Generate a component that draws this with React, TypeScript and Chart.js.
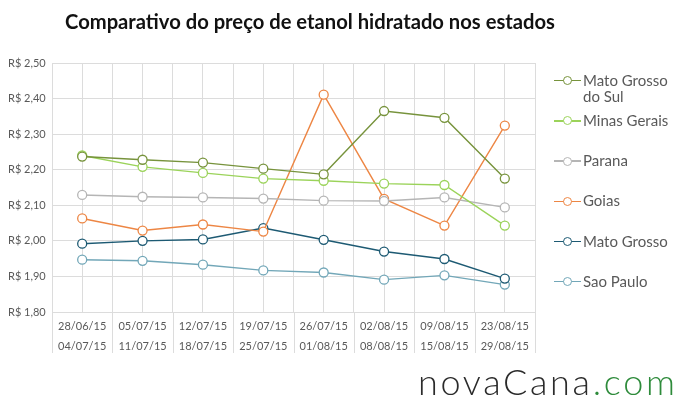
import React, { useEffect, useRef } from "react";
import { Chart, registerables } from "chart.js";

Chart.register(...registerables);

const startDates = ["28/06/15", "05/07/15", "12/07/15", "19/07/15", "26/07/15", "02/08/15", "09/08/15", "23/08/15"];
const endDates = ["04/07/15", "11/07/15", "18/07/15", "25/07/15", "01/08/15", "08/08/15", "15/08/15", "29/08/15"];

const matoGrossoDoSul = [2.237, 2.228, 2.22, 2.203, 2.187, 2.365, 2.346, 2.175];
const minasGerais = [2.24, 2.208, 2.191, 2.175, 2.169, 2.161, 2.157, 2.043];
const parana = [2.129, 2.124, 2.122, 2.119, 2.113, 2.112, 2.122, 2.094];
const goias = [2.063, 2.029, 2.046, 2.026, 2.411, 2.118, 2.043, 2.324];
const matoGrosso = [1.992, 2.0, 2.004, 2.036, 2.003, 1.97, 1.949, 1.894];
const saoPaulo = [1.947, 1.944, 1.933, 1.917, 1.911, 1.891, 1.903, 1.877];

const yTicks = [1.8, 1.9, 2.0, 2.1, 2.2, 2.3, 2.4, 2.5];

const series = [
  { name: ["Mato Grosso", "do Sul"], values: matoGrossoDoSul, color: "#77933c" },
  { name: ["Minas Gerais"], values: minasGerais, color: "#9bd35a" },
  { name: ["Parana"], values: parana, color: "#b5b5b5" },
  { name: ["Goias"], values: goias, color: "#ed8644" },
  { name: ["Mato Grosso"], values: matoGrosso, color: "#1d5a73" },
  { name: ["Sao Paulo"], values: saoPaulo, color: "#72a7b8" },
];

const GRID = "#dcdcdc";
const TEXT = "#595959";

const separatorPlugin = {
  id: "separators",
  afterDraw(chart: any) {
    const x = chart.scales.x;
    const area = chart.chartArea;
    const ctx = chart.ctx;
    ctx.save();
    ctx.strokeStyle = GRID;
    ctx.lineWidth = 1;
    for (let i = 0; i <= startDates.length; i++) {
      const px = Math.round(x.getPixelForValue(i - 0.5)) + 0.5;
      ctx.beginPath();
      ctx.moveTo(px, area.bottom);
      ctx.lineTo(px, area.bottom + 41);
      ctx.stroke();
    }
    ctx.restore();
  },
};

export default function App() {
  const ref = useRef<HTMLCanvasElement>(null);

  useEffect(() => {
    document.body.style.margin = "0";
    const canvas = ref.current!;
    const chart = new Chart(canvas, {
      type: "line",
      data: {
        datasets: series.map((s) => ({
          label: s.name.join(" "),
          data: s.values.map((v, i) => ({ x: i, y: v })),
          borderColor: s.color,
          backgroundColor: "#ffffff",
          pointBackgroundColor: "#ffffff",
          pointBorderColor: s.color,
          pointRadius: 4.5,
          pointBorderWidth: 1.3,
          borderWidth: 1.4,
          tension: 0,
        })),
      },
      options: {
        animation: false,
        responsive: false,
        devicePixelRatio: 1,
        layout: { padding: { left: 8, top: 63, right: 149, bottom: 0 } },
        plugins: {
          legend: { display: false },
          tooltip: { enabled: false },
          title: { display: false },
        },
        scales: {
          x: {
            type: "linear",
            min: -0.5,
            max: 7.5,
            afterFit: (s: any) => {
              s.height = 94;
            },
            afterBuildTicks: (s: any) => {
              const t = [];
              for (let i = 0; i <= 16; i++) t.push({ value: -0.5 + i * 0.5 });
              s.ticks = t;
            },
            grid: { color: GRID, drawTicks: false, lineWidth: 1 },
            border: { color: GRID },
            ticks: {
              autoSkip: false,
              maxRotation: 0,
              padding: 4,
              color: TEXT,
              font: { family: "Lato", size: 11, lineHeight: 20 / 11 },
              callback: (value: any) => {
                const v = Number(value);
                const r = Math.round(v);
                if (Math.abs(v - r) < 1e-6 && r >= 0 && r < startDates.length) {
                  return [startDates[r], endDates[r]];
                }
                return "";
              },
            },
          },
          y: {
            min: 1.8,
            max: 2.5,
            afterFit: (s: any) => {
              s.width = 44;
            },
            afterBuildTicks: (s: any) => {
              s.ticks = yTicks.map((v) => ({ value: v }));
            },
            grid: { color: GRID, drawTicks: false, lineWidth: 1 },
            border: { color: GRID },
            ticks: {
              crossAlign: "far",
              padding: 0,
              color: TEXT,
              font: { family: "Lato", size: 11 },
              callback: (value: any) => "R$ " + Number(value).toFixed(2).replace(".", ","),
            },
          },
        },
      },
      plugins: [separatorPlugin],
    });
    return () => chart.destroy();
  }, []);

  return (
    <div style={{ position: "relative", width: 684, height: 406, background: "#fff", overflow: "hidden" }}>
      <canvas ref={ref} width={684} height={406} style={{ position: "absolute", left: 0, top: 0 }} />
      <div
        style={{
          position: "absolute",
          left: 65,
          top: 8,
          fontFamily: "Lato",
          fontWeight: 700,
          fontSize: 20.2,
          color: "#111",
          whiteSpace: "nowrap",
          lineHeight: "26px",
        }}
      >
        Comparativo do preço de etanol hidratado nos estados
      </div>
      {series.map((s, i) => {
        const cy = 80.7 + i * 40.2;
        return (
          <div key={i}>
            <div style={{ position: "absolute", left: 554, top: cy - 0.7, width: 27, height: 1.4, background: s.color }} />
            <div
              style={{
                position: "absolute",
                left: 563,
                top: cy - 4.5,
                width: 7,
                height: 7,
                borderRadius: "50%",
                border: `1.3px solid ${s.color}`,
                background: "#fff",
              }}
            />
            <div
              style={{
                position: "absolute",
                left: 583,
                top: cy - 9,
                fontFamily: "Lato",
                fontSize: 15,
                lineHeight: "16px",
                color: TEXT,
                whiteSpace: "nowrap",
              }}
            >
              {s.name.map((n, j) => (
                <div key={j}>{n}</div>
              ))}
            </div>
          </div>
        );
      })}
      <div
        style={{
          position: "absolute",
          left: 418,
          top: 361,
          fontFamily: "Lato",
          fontWeight: 300,
          fontSize: 36,
          letterSpacing: 2.7,
          lineHeight: "40px",
          whiteSpace: "nowrap",
          color: "#2b2b2b",
        }}
      >
        novaCana<span style={{ color: "#2e8b3b" }}>.com</span>
      </div>
    </div>
  );
}
